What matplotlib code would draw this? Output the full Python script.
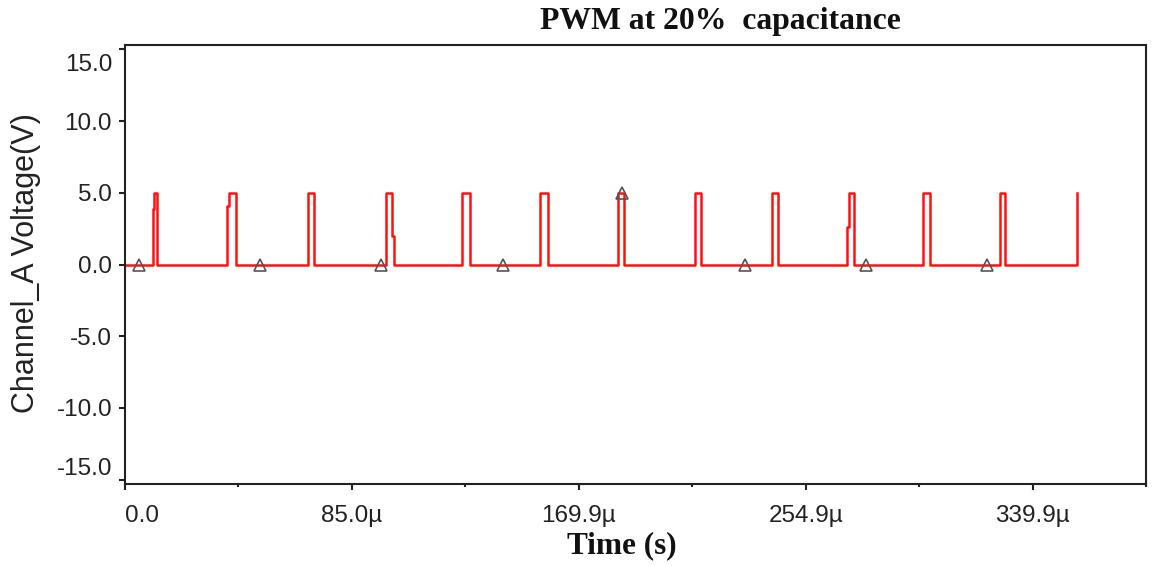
import matplotlib
matplotlib.use("Agg")
import matplotlib.pyplot as plt
from matplotlib.transforms import ScaledTranslation

# Channel A waveform: breakpoints (time in microseconds) and the voltage held from each one
time_us = [0.0, 10.3, 11.0, 11.9, 38.3, 39.0, 41.5, 68.4, 70.9, 97.6, 100.0, 100.9,
           126.2, 129.3, 155.6, 158.4, 184.8, 186.9, 213.4, 215.7, 242.3, 244.4,
           270.4, 271.2, 273.2, 298.8, 301.6, 327.7, 329.7, 356.4, 356.6]
volts = [0.0, 3.9, 5.0, 0.0, 4.1, 5.0, 0.0, 5.0, 0.0, 5.0, 2.0, 0.0,
         5.0, 0.0, 5.0, 0.0, 5.0, 0.0, 5.0, 0.0, 5.0, 0.0,
         2.6, 5.0, 0.0, 5.0, 0.0, 5.0, 0.0, 5.0, 5.0]

# Sample markers on the trace
marker_us = [5.2, 50.5, 95.8, 141.5, 186.3, 232.3, 277.6, 323.0]
marker_v = [0.0, 0.0, 0.0, 0.0, 5.0, 0.0, 0.0, 0.0]

# Axis ticks
x_ticks = [0.0, 84.97, 169.94, 254.91, 339.88]
x_ticklabels = ["0.0", "85.0\u00b5", "169.9\u00b5", "254.9\u00b5", "339.9\u00b5"]
y_ticks = [-15, -10, -5, 0, 5, 10, 15]
y_ticklabels = ["-15.0", "-10.0", "-5.0", "0.0", "5.0", "10.0", "15.0"]

W, H = 1165, 566
fig = plt.figure(figsize=(W / 100, H / 100), dpi=100)
ax = fig.add_axes([125 / W, 1 - 484 / H, (1146 - 125) / W, (484 - 45) / H])

ax.plot(time_us, volts, drawstyle="steps-post", color="#ff1010", lw=1.8, zorder=2)
ax.plot(marker_us, marker_v, linestyle="none", marker="^", ms=8.5,
        mfc="none", mec="#555555", mew=1.2, zorder=3)

ax.set_xlim(0, 382.37)
ax.set_ylim(-15.3, 15.3)

ax.set_xticks(x_ticks)
ax.set_xticklabels(x_ticklabels)
ax.set_xticks([42.485 + 84.97 * k for k in range(5)], minor=True)
ax.set_yticks(y_ticks)
ax.set_yticklabels(y_ticklabels)

for lab in ax.get_xticklabels() + ax.get_yticklabels():
    lab.set_fontfamily("Liberation Sans")
    lab.set_fontsize(17.5)
    lab.set_color("#222222")

ax.tick_params(axis="both", which="major", direction="out", length=4.3, width=1.5,
               color="#222222")
ax.tick_params(axis="x", which="major", pad=11)
ax.tick_params(axis="y", which="major", pad=5)
ax.tick_params(axis="x", which="minor", direction="out", length=2.2, width=1.5,
               color="#222222")

# keep the outer tick labels inside the frame
xl = ax.get_xticklabels()
xl[0].set_horizontalalignment("left")
yl = ax.get_yticklabels()
yl[0].set_transform(yl[0].get_transform() + ScaledTranslation(0, 13 / 100, fig.dpi_scale_trans))
yl[-1].set_transform(yl[-1].get_transform() + ScaledTranslation(0, -13 / 100, fig.dpi_scale_trans))

for sp in ax.spines.values():
    sp.set_color("#222222")
    sp.set_linewidth(1.5)

fig.text(720 / W, 1 - 21 / H, "PWM at 20%  capacitance", ha="center", va="center",
         family="Liberation Serif", weight="bold", fontsize=22.8, color="#111111")
fig.text(622 / W, 1 - 546 / H, "Time (s)", ha="center", va="center",
         family="Liberation Serif", weight="bold", fontsize=22.5, color="#111111")
fig.text(26 / W, 1 - 263 / H, "Channel_A Voltage(V)", ha="center", va="center",
         rotation=90, family="Liberation Sans", fontsize=22, color="#222222")

fig.savefig("out.png", dpi=100)
